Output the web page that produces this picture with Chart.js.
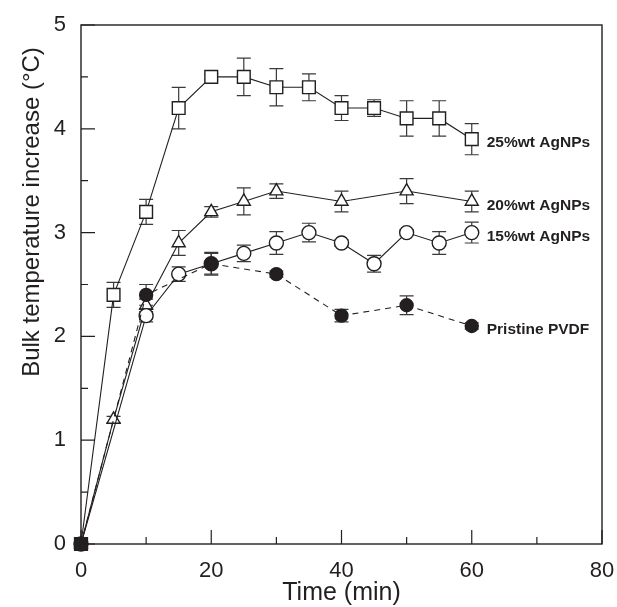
<!DOCTYPE html>
<html>
<head>
<meta charset="utf-8">
<script src="https://cdn.jsdelivr.net/npm/chart.js@4.4.0/dist/chart.umd.min.js"></script>
<style>
  html, body { margin: 0; padding: 0; background: #fff; }
  #wrap { width: 617px; height: 607px; }
</style>
</head>
<body>
<div id="wrap"><canvas id="tempChart"></canvas></div>
<script>
// Bulk temperature increase vs time
const t25 = [0, 5, 10, 15, 20, 25, 30, 35, 40, 45, 50, 55, 60]
const y25 = [0, 2.4, 3.2, 4.2, 4.5, 4.5, 4.4, 4.4, 4.2, 4.2, 4.1, 4.1, 3.9]
const e25 = [0, 0.12, 0.12, 0.2, 0.03, 0.18, 0.18, 0.13, 0.12, 0.08, 0.17, 0.17, 0.15]

const t20 = [0, 5, 10, 15, 20, 25, 30, 40, 50, 60]
const y20 = [0, 1.2, 2.3, 2.9, 3.2, 3.3, 3.4, 3.3, 3.4, 3.3]
const e20 = [0, 0.03, 0.06, 0.12, 0.05, 0.13, 0.07, 0.1, 0.12, 0.1]

const t15 = [0, 10, 15, 20, 25, 30, 35, 40, 45, 50, 55, 60]
const y15 = [0, 2.2, 2.6, 2.7, 2.8, 2.9, 3.0, 2.9, 2.7, 3.0, 2.9, 3.0]
const e15 = [0, 0.06, 0.07, 0.1, 0.08, 0.11, 0.09, 0.03, 0.08, 0.03, 0.11, 0.1]

const tPure = [0, 10, 20, 30, 40, 50, 60]
const yPure = [0, 2.4, 2.7, 2.6, 2.2, 2.3, 2.1]
const ePure = [0, 0.1, 0.11, 0.03, 0.06, 0.09, 0.03]

const seriesNames = ["Pristine PVDF", "15%wt AgNPs", "20%wt AgNPs", "25%wt AgNPs"]

const xMajor = [0, 20, 40, 60, 80]
const xMinor = [10, 30, 50, 70]
const yMajor = [0, 1, 2, 3, 4, 5]
const yMinor = [0.5, 1.5, 2.5, 3.5, 4.5]

const ink = "#231f20"
const fontFamily = "'Liberation Sans', Arial, Helvetica, sans-serif"

const pts = (xs, ys) => xs.map((x, i) => ({ x: x, y: ys[i] }))

const base = {
  borderColor: ink,
  borderWidth: 1.1,
  pointBorderColor: ink,
  pointBorderWidth: 1.4,
  pointBackgroundColor: "#fff",
  pointHoverRadius: 7,
  tension: 0,
  fill: false,
  clip: false,
}

const datasets = [
  {
    ...base,
    label: seriesNames[0],
    data: pts(tPure, yPure),
    err: ePure,
    borderDash: [6, 5],
    pointStyle: (c) => (c.dataIndex === 0 ? "rect" : "circle"),
    pointRadius: (c) => (c.dataIndex === 0 ? 9 : 6.5),
    pointBackgroundColor: ink,
  },
  { ...base, label: seriesNames[1], data: pts(t15, y15), err: e15, pointStyle: "circle", pointRadius: 7 },
  { ...base, label: seriesNames[2], data: pts(t20, y20), err: e20, pointStyle: "triangle", pointRadius: 7.5 },
  { ...base, label: seriesNames[3], data: pts(t25, y25), err: e25, pointStyle: "rect", pointRadius: 9 },
]

// error bars under the markers
const errorBars = {
  id: "errorBars",
  beforeDatasetsDraw(chart) {
    const { ctx, scales } = chart
    ctx.save()
    ctx.strokeStyle = "#3a3a3a"
    ctx.lineWidth = 1.2
    chart.data.datasets.forEach((ds) => {
      ds.data.forEach((p, i) => {
        const e = ds.err[i]
        if (!e) return
        const x = scales.x.getPixelForValue(p.x)
        const yt = scales.y.getPixelForValue(p.y + e)
        const yb = scales.y.getPixelForValue(p.y - e)
        ctx.beginPath()
        ctx.moveTo(x, yt)
        ctx.lineTo(x, yb)
        ctx.moveTo(x - 7, yt)
        ctx.lineTo(x + 7, yt)
        ctx.moveTo(x - 7, yb)
        ctx.lineTo(x + 7, yb)
        ctx.stroke()
      })
    })
    ctx.restore()
  },
}

// frame, inward ticks, series labels and axis titles
const frame = {
  id: "frame",
  afterDraw(chart) {
    const { ctx, chartArea: a, scales } = chart
    ctx.save()
    ctx.strokeStyle = ink
    ctx.lineWidth = 1.4
    ctx.strokeRect(a.left, a.top, a.right - a.left, a.bottom - a.top)

    ctx.lineWidth = 1.2
    ctx.beginPath()
    xMajor.forEach((v) => {
      const x = scales.x.getPixelForValue(v)
      ctx.moveTo(x, a.bottom)
      ctx.lineTo(x, a.bottom - 14)
    })
    xMinor.forEach((v) => {
      const x = scales.x.getPixelForValue(v)
      ctx.moveTo(x, a.bottom)
      ctx.lineTo(x, a.bottom - 7)
    })
    yMajor.forEach((v) => {
      const y = scales.y.getPixelForValue(v)
      ctx.moveTo(a.left, y)
      ctx.lineTo(a.left + 14, y)
    })
    yMinor.forEach((v) => {
      const y = scales.y.getPixelForValue(v)
      ctx.moveTo(a.left, y)
      ctx.lineTo(a.left + 7, y)
    })
    ctx.stroke()

    // series labels next to the last point
    ctx.fillStyle = ink
    ctx.font = "bold 15.5px " + fontFamily
    ctx.textAlign = "left"
    ctx.textBaseline = "middle"
    chart.data.datasets.forEach((ds) => {
      const last = ds.data[ds.data.length - 1]
      ctx.fillText(ds.label, scales.x.getPixelForValue(last.x) + 15, scales.y.getPixelForValue(last.y) + 4)
    })

    // axis titles
    ctx.font = "25px " + fontFamily
    ctx.textAlign = "center"
    ctx.fillText("Time (min)", (a.left + a.right) / 2, 593)
    ctx.translate(32, 212)
    ctx.rotate(-Math.PI / 2)
    ctx.font = "24px " + fontFamily
    ctx.fillText("Bulk temperature increase (°C)", 0, 0)
    ctx.restore()
  },
}

const ctx = document.getElementById("tempChart")
new Chart(ctx, {
  type: "line",
  data: { datasets: datasets },
  options: {
    responsive: true,
    maintainAspectRatio: false,
    animation: false,
    layout: { padding: { left: 0, top: 25, right: 15, bottom: 0 } },
    plugins: {
      legend: { display: false },
      tooltip: { enabled: true },
    },
    scales: {
      x: {
        type: "linear",
        min: 0,
        max: 80,
        grid: { display: false, drawTicks: true, tickLength: 12 },
        border: { display: false },
        ticks: {
          stepSize: 20,
          padding: 2,
          color: ink,
          font: { size: 22, family: fontFamily },
          maxRotation: 0,
        },
        afterFit: (s) => {
          s.height = 63
        },
      },
      y: {
        min: 0,
        max: 5,
        grid: { display: false, drawTicks: true, tickLength: 13 },
        border: { display: false },
        ticks: {
          stepSize: 1,
          padding: 2,
          color: ink,
          font: { size: 22, family: fontFamily },
        },
        afterFit: (s) => {
          s.width = 81
        },
      },
    },
  },
  plugins: [errorBars, frame],
})
</script>
</body>
</html>
